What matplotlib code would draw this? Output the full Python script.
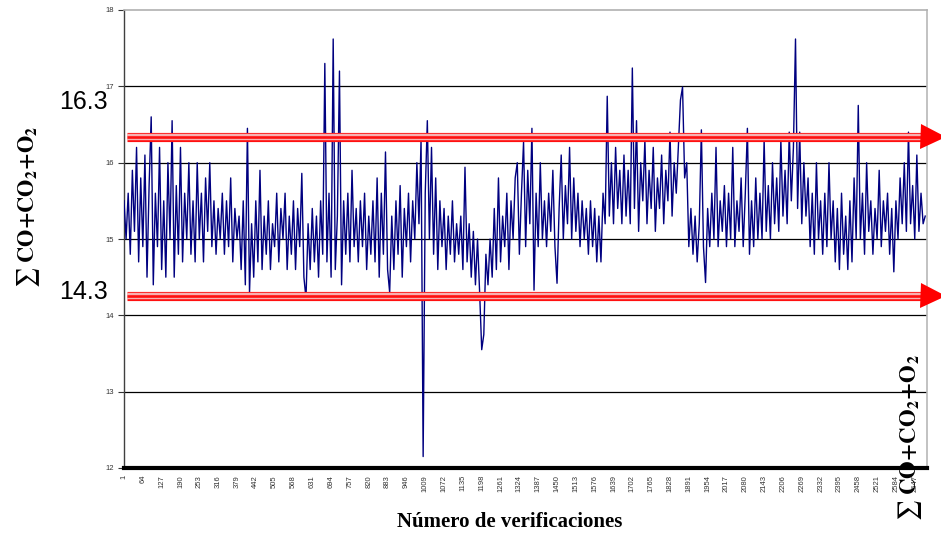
import numpy as np
import matplotlib
matplotlib.use("Agg")
import matplotlib.pyplot as plt
from matplotlib.transforms import blended_transform_factory

plt.rcParams['mathtext.fontset'] = 'stix'

# ---- data (one reading every 7 verifications) ----
sigma_rows = [
    [15.5, 15.0, 15.6, 14.8, 15.9, 15.1, 16.2, 14.7, 15.8, 14.9, 16.1, 14.5, 15.7, 16.6, 14.4, 15.6],
    [14.9, 16.2, 14.6, 15.5, 14.5, 16.0, 15.0, 16.55, 14.5, 15.7, 14.8, 16.2, 14.7, 15.6, 15.0, 16.0],
    [14.8, 15.5, 14.7, 16.0, 15.0, 15.6, 14.7, 15.8, 15.1, 16.0, 14.9, 15.5, 14.8, 15.4, 15.0, 15.6],
    [14.8, 15.5, 14.9, 15.8, 14.7, 15.4, 15.0, 15.3, 14.6, 15.5, 14.4, 16.45, 14.3, 15.2, 14.5, 15.5],
    [14.7, 15.9, 14.6, 15.3, 14.8, 15.5, 14.6, 15.2, 14.9, 15.6, 14.7, 15.4, 15.0, 15.6, 14.6, 15.3],
    [14.8, 15.5, 14.6, 15.4, 14.9, 15.86, 14.5, 14.22, 15.2, 14.6, 15.4, 14.7, 15.3, 14.5, 15.5, 14.8],
    [17.3, 14.7, 15.6, 14.5, 17.62, 14.6, 15.3, 17.2, 14.4, 15.5, 14.8, 15.6, 14.7, 15.9, 14.9, 15.4],
    [14.7, 15.5, 14.9, 15.6, 14.6, 15.3, 14.8, 15.5, 14.7, 15.8, 14.5, 15.6, 14.8, 16.14, 14.6, 14.3],
    [15.3, 14.6, 15.5, 14.8, 15.7, 14.5, 15.4, 14.9, 15.6, 14.7, 15.5, 15.0, 16.0, 15.2, 16.3, 12.15],
    [15.6, 16.55, 15.0, 16.2, 14.8, 15.8, 14.6, 15.5, 14.9, 15.4, 14.6, 15.3, 14.8, 15.5, 14.7, 15.2],
    [14.8, 15.3, 14.6, 15.94, 14.7, 15.2, 14.5, 15.1, 14.4, 15.0, 14.3, 13.55, 13.75, 14.8, 14.4, 15.0],
    [14.5, 15.4, 14.6, 15.8, 14.7, 15.3, 14.9, 15.6, 14.6, 15.5, 15.0, 15.8, 16.0, 14.8, 15.6, 16.27],
    [14.9, 15.9, 15.2, 16.45, 14.33, 15.6, 14.9, 16.0, 15.0, 15.5, 14.9, 15.6, 15.1, 15.9, 14.9, 14.42],
    [15.4, 16.1, 15.0, 15.7, 15.2, 16.2, 15.0, 15.8, 15.1, 15.6, 14.9, 15.5, 15.0, 15.4, 14.8, 15.5],
    [14.9, 15.4, 14.7, 15.3, 14.7, 15.6, 15.2, 16.87, 15.3, 16.0, 15.2, 16.2, 15.4, 15.9, 15.2, 16.1],
    [15.3, 15.9, 15.2, 17.24, 15.4, 16.55, 15.1, 16.0, 15.5, 16.3, 15.2, 15.9, 15.4, 16.2, 15.1, 15.8],
    [15.4, 16.1, 15.2, 15.9, 15.5, 16.4, 15.3, 16.0, 15.6, 16.2, 16.82, 16.99, 15.8, 16.0, 14.9, 15.4],
    [14.8, 15.3, 14.7, 15.2, 16.43, 14.9, 14.43, 15.4, 14.9, 15.6, 15.0, 16.2, 14.9, 15.5, 15.1, 15.7],
    [14.9, 15.6, 15.0, 16.2, 14.9, 15.5, 15.1, 15.8, 14.9, 15.6, 16.45, 14.8, 15.5, 14.9, 15.8, 15.0],
    [15.6, 15.0, 16.3, 15.1, 15.7, 15.0, 16.0, 15.2, 15.8, 15.1, 16.3, 15.3, 15.9, 15.2, 16.4, 15.5],
    [16.2, 17.62, 15.4, 16.4, 15.2, 16.0, 15.3, 15.8, 14.9, 15.6, 14.8, 16.0, 15.0, 15.5, 14.8, 15.6],
    [14.9, 16.0, 15.0, 15.5, 14.7, 15.4, 14.6, 15.6, 14.8, 15.3, 14.6, 15.5, 14.7, 15.8, 15.0, 16.75],
    [15.0, 15.6, 14.8, 16.0, 15.1, 15.5, 14.8, 15.4, 15.0, 15.9, 14.9, 15.5, 15.1, 15.6, 14.8, 15.4],
    [14.57, 15.5, 15.0, 15.8, 15.2, 16.0, 15.1, 16.4, 15.2, 15.7, 15.0, 16.1, 15.1, 15.6, 15.2, 15.3],
]
sample_step = 7
n_verifications = 2688
upper_limit = 16.34
lower_limit = 14.25
upper_label = "16.3"
lower_label = "14.3"
xtick_values = list(range(1, 2648, 63))
ytick_values = [12, 13, 14, 15, 16, 17, 18]
xlabel_text = "Número de verificaciones"
ylabel_text = r"$\sum\ \mathbf{CO{+}CO_2{+}O_2}$"

sigma = np.concatenate([np.array(r) for r in sigma_rows])
verif = 1 + sample_step * np.arange(len(sigma))

# ---- figure ----
W, H = 941, 538
fig = plt.figure(figsize=(W / 100, H / 100), dpi=100)
ax = fig.add_axes([124 / W, 1 - 468 / H, 803 / W, 458 / H])

ax.set_xlim(1, n_verifications)
ax.set_ylim(12, 18)

for v in ytick_values[1:-1]:
    ax.axhline(v, color='black', lw=0.9, zorder=1)

ax.plot(verif, sigma, color='#000080', lw=1.0, zorder=3)

trans = blended_transform_factory(ax.transAxes, ax.transData)
for lim in (upper_limit, lower_limit):
    ax.axhline(lim, xmin=0.004, xmax=0.995, color='#ff1010', lw=6.6, zorder=4,
               solid_capstyle='butt')
    ax.axhline(lim, xmin=0.004, xmax=0.995, color='#f7b0b0', lw=4.6, zorder=5,
               solid_capstyle='butt')
    ax.axhline(lim, xmin=0.004, xmax=0.995, color='#ff1010', lw=1.9, zorder=6,
               solid_capstyle='butt')
    ax.plot([1.007], [lim], marker='>', markersize=18, color='#ff0000',
            transform=trans, clip_on=False, zorder=7, markeredgewidth=0)

ax.set_yticks(ytick_values)
ax.set_yticklabels([str(v) for v in ytick_values], fontsize=5.5, color='#333333',
                   family='Liberation Sans')
ax.set_xticks(xtick_values)
ax.set_xticklabels([str(v) for v in xtick_values], rotation=90, fontsize=5.5,
                   color='#333333', family='Liberation Sans')
ax.tick_params(axis='y', length=4, width=0.8, color='#333333', pad=3)
ax.tick_params(axis='x', length=0, pad=5)

ax.spines['left'].set_color('#404040')
ax.spines['left'].set_linewidth(1.0)
ax.spines['bottom'].set_color('black')
ax.spines['bottom'].set_linewidth(3.0)
ax.spines['top'].set_color('#b0b0b0')
ax.spines['top'].set_linewidth(1.2)
ax.spines['right'].set_color('#b8b8b8')
ax.spines['right'].set_linewidth(1.2)

# limit labels
fig.text(108 / W, 1 - 102 / H, upper_label, ha='right', va='center', fontsize=18,
         family='Liberation Sans', color='black')
fig.text(108 / W, 1 - 292 / H, lower_label, ha='right', va='center', fontsize=18,
         family='Liberation Sans', color='black')

# axis labels
fig.text(29 / W, 1 - 207 / H, ylabel_text, rotation=90, ha='center', va='center',
         fontsize=16, color='black')
fig.text(910 / W, 1 - 438 / H, ylabel_text, rotation=90, ha='center', va='center',
         fontsize=16.5, color='black')
fig.text(510 / W, 1 - 522 / H, xlabel_text, ha='center', va='center', fontsize=15,
         family='Liberation Serif', weight='bold', color='black')

fig.savefig('out.png', dpi=100)
